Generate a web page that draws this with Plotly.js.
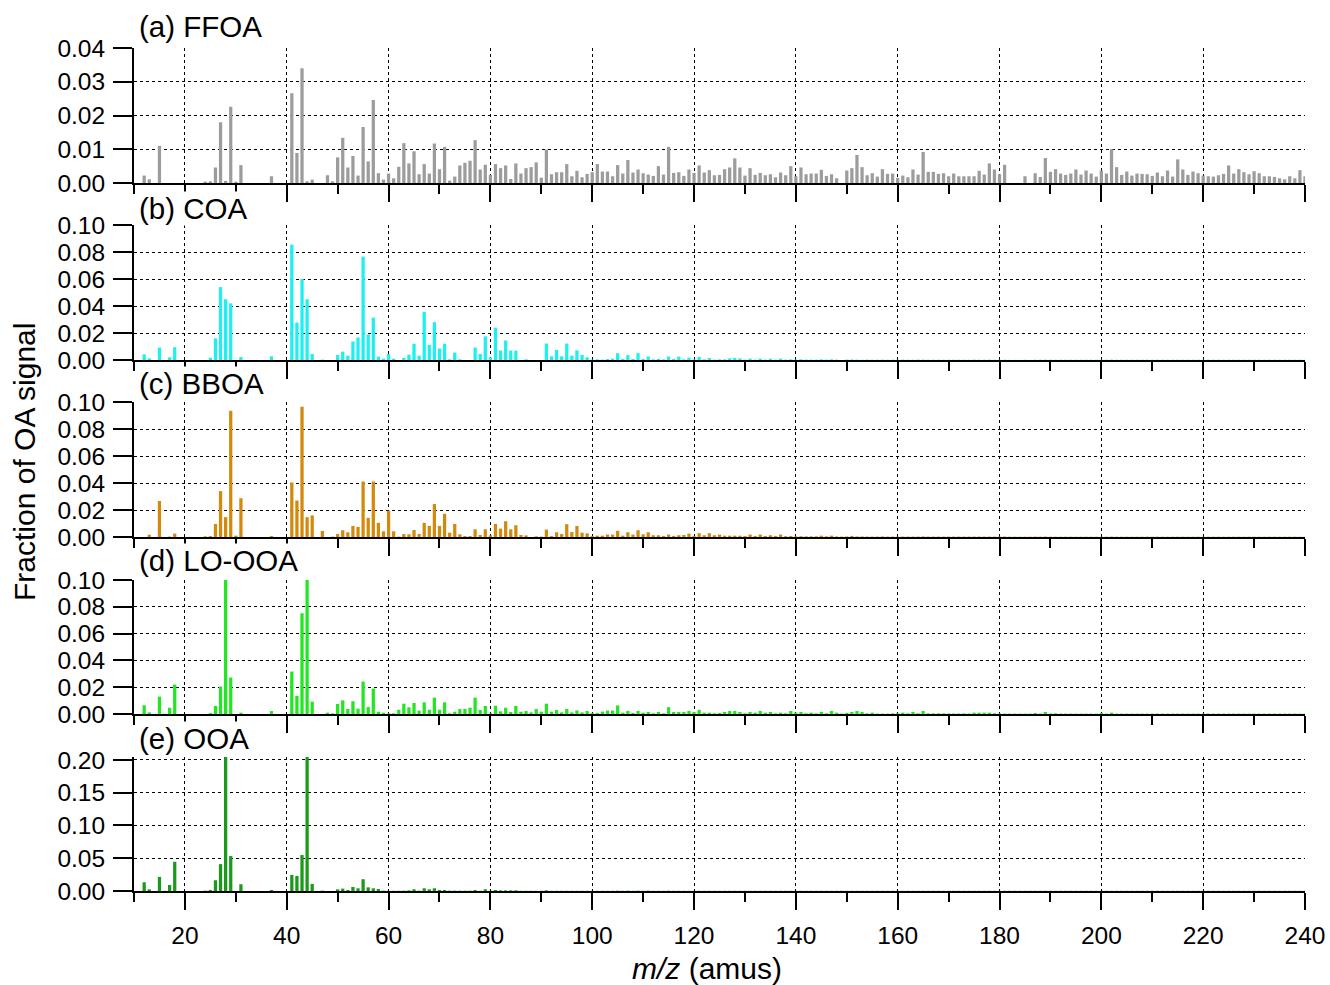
<!DOCTYPE html>
<html>
<head>
<meta charset="utf-8">
<script src="https://cdn.plot.ly/plotly-3.0.1.min.js"></script>
<style>html,body{margin:0;padding:0;background:#fff;}#chart{width:1330px;height:985px;}</style>
</head>
<body>
<div id="chart"></div>
<script>
// m/z values (amus)
const MZ = [12,13,14,15,16,17,18,19,
20,21,22,23,24,25,26,27,28,29,
30,31,32,33,34,35,36,37,38,39,
40,41,42,43,44,45,46,47,48,49,
50,51,52,53,54,55,56,57,58,59,
60,61,62,63,64,65,66,67,68,69,
70,71,72,73,74,75,76,77,78,79,
80,81,82,83,84,85,86,87,88,89,
90,91,92,93,94,95,96,97,98,99,
100,101,102,103,104,105,106,107,108,109,
110,111,112,113,114,115,116,117,118,119,
120,121,122,123,124,125,126,127,128,129,
130,131,132,133,134,135,136,137,138,139,
140,141,142,143,144,145,146,147,148,149,
150,151,152,153,154,155,156,157,158,159,
160,161,162,163,164,165,166,167,168,169,
170,171,172,173,174,175,176,177,178,179,
180,181,182,183,184,185,186,187,188,189,
190,191,192,193,194,195,196,197,198,199,
200,201,202,203,204,205,206,207,208,209,
210,211,212,213,214,215,216,217,218,219,
220,221,222,223,224,225,226,227,228,229,
230,231,232,233,234,235,236,237,238,239,
240];

const FFOA = [0.0022,0.0011,0,0.011,0,0,0,0,
0,0,0,0,0.0004,0.0005,0.0046,0.018,0.0006,0.0226,
0.0004,0.0053,0,0,0,0,0,0.002,0,0,
0,0.0266,0.0089,0.034,0.0005,0.001,0,0,0.0023,0.0005,
0.0076,0.0134,0.0046,0.008,0.0022,0.0166,0.0064,0.0246,0.0029,0.001,
0.0028,0.0014,0.0048,0.0118,0.0058,0.0094,0.0026,0.0056,0.0028,0.0117,
0.0041,0.0107,0.0007,0.0019,0.0052,0.006,0.0066,0.0127,0.004,0.0054,
0.0024,0.0056,0.0044,0.0052,0.0012,0.0058,0.0028,0.0044,0.0047,0.0061,
0.0016,0.0099,0.0026,0.0032,0.0032,0.0056,0.002,0.0036,0.0017,0.0027,
0.0032,0.0056,0.0034,0.0034,0.002,0.0053,0.0028,0.0068,0.0031,0.004,
0.0029,0.0025,0.0021,0.005,0.0025,0.0107,0.003,0.0032,0.0021,0.004,
0.003,0.0052,0.0031,0.0038,0.0023,0.0024,0.0041,0.0046,0.0073,0.0046,
0.0022,0.0044,0.0024,0.003,0.0023,0.0026,0.0017,0.0031,0.0023,0.005,
0.002,0.0046,0.0026,0.0028,0.0028,0.0039,0.0021,0.0026,0.0014,0,
0.0037,0.0044,0.0083,0.0047,0.0023,0.0029,0.0019,0.0041,0.0027,0.0028,
0.0015,0.0022,0.0017,0.004,0.0025,0.0092,0.0033,0.0033,0.0027,0.0029,
0.002,0.0028,0.002,0.002,0.002,0.002,0.0036,0.0025,0.0058,0.004,
0.0026,0.0054,0,0,0,0.002,0,0.0029,0.0018,0.0074,
0.0033,0.0041,0.0028,0.0024,0.0028,0.004,0.0025,0.0037,0.0028,0.0019,
0.0037,0.0028,0.01,0.0047,0.0024,0.0034,0.0022,0.0028,0.0027,0.0026,
0.0021,0.0031,0.002,0.0037,0.0019,0.007,0.004,0.0024,0.0034,0.0029,
0.0022,0.002,0.0019,0.0023,0.0027,0.0052,0.0028,0.0041,0.0032,0.0026,
0.0035,0.0029,0.002,0.002,0.0018,0.0014,0.0011,0.002,0.0014,0.0038,
0.002];

const COA = [0.0042,0.0012,0,0.0092,0,0.002,0.0095,0,
0,0,0,0,0,0.0017,0.016,0.054,0.045,0.042,
0,0.0022,0,0,0,0,0,0.0027,0,0,
0,0.0855,0.0277,0.06,0.045,0.0045,0,0.0003,0,0,
0.0037,0.0062,0.0032,0.0137,0.0167,0.0766,0.019,0.0314,0.0025,0.001,
0.0045,0.001,0,0.0015,0.004,0.012,0.0032,0.0357,0.0112,0.028,
0.0085,0.012,0.0005,0.0055,0.0005,0,0,0.0092,0.0045,0.0175,
0.002,0.024,0.007,0.0145,0.007,0.007,0,0.0005,0,0,
0,0.0122,0.0027,0.0075,0.0027,0.0122,0.0032,0.0072,0.0037,0.002,
0.0003,0.0005,0.0003,0.0007,0.001,0.005,0.0008,0.0036,0.0008,0.005,
0.0008,0.0026,0.0005,0.0008,0.0005,0.0026,0.0008,0.0026,0.0005,0.0018,
0.0005,0.0023,0.0005,0.0015,0.0003,0.0005,0.0005,0.0012,0.0015,0.0012,
0.0003,0.001,0.0003,0.001,0.0003,0.001,0.0003,0.001,0.0003,0.0005,
0.0003,0.0005,0.0003,0.0003,0.0003,0.0005,0.0003,0.0005,0.0003,0,
0.0003,0.0004,0.0003,0.0002,0.0003,0.0002,0.0002,0.0003,0.0002,0.0002,
0.0002,0.0003,0.0002,0.0002,0.0003,0.0003,0.0002,0.0002,0.0002,0.0002,
0.0002,0.0002,0.0002,0.0002,0.0002,0.0003,0.0002,0.0002,0.0003,0.0002,
0.0002,0.0002,0.0001,0.0001,0.0001,0.0002,0.0001,0.0002,0.0002,0.0003,
0.0002,0.0002,0.0002,0.0002,0.0002,0.0002,0.0002,0.0002,0.0002,0.0002,
0.0002,0.0002,0.0003,0.0002,0.0002,0.0002,0.0002,0.0002,0.0002,0.0002,
0.0002,0.0002,0.0002,0.0002,0.0002,0.0002,0.0002,0.0002,0.0002,0.0002,
0.0002,0.0002,0.0002,0.0002,0.0002,0.0002,0.0002,0.0002,0.0002,0.0002,
0.0002,0.0002,0.0002,0.0002,0.0002,0.0002,0.0002,0.0002,0.0002,0.0002,
0.0002];

const BBOA = [0,0.0017,0,0.0267,0,0.0003,0.0025,0,
0,0,0,0,0.0005,0.0007,0.0097,0.034,0.0147,0.0935,
0.001,0.0287,0,0,0,0,0,0.0007,0,0,
0,0.0404,0.027,0.0965,0.0147,0.016,0,0.0045,0,0.0003,
0.0022,0.005,0.0035,0.0082,0.0075,0.0411,0.0142,0.0411,0.0105,0.0042,
0.0195,0.0042,0.0003,0.0022,0.002,0.0052,0.0022,0.0105,0.0082,0.0244,
0.0082,0.0172,0.0032,0.0097,0.002,0.0007,0.0007,0.0057,0.0015,0.0057,
0.0012,0.0097,0.0062,0.0117,0.0057,0.0087,0.0015,0.0012,0,0.0005,
0.0003,0.0055,0.0007,0.0035,0.0022,0.0095,0.0037,0.0082,0.0032,0.0027,
0.0007,0.001,0.001,0.0018,0.0018,0.0046,0.001,0.0035,0.0018,0.005,
0.002,0.0035,0.0013,0.0013,0.0008,0.0018,0.0008,0.0013,0.0015,0.0025,
0.0008,0.0028,0.0013,0.0028,0.0013,0.0018,0.001,0.001,0.001,0.001,
0.0008,0.0018,0.0008,0.0018,0.0008,0.0013,0.0008,0.0018,0.0006,0.0008,
0.0005,0.0006,0.0005,0.0005,0.0005,0.001,0.0005,0.001,0.0004,0.0003,
0.0004,0.0008,0.0004,0.0004,0.0003,0.0003,0.0003,0.0004,0.0003,0.0003,
0.0003,0.0003,0.0003,0.0003,0.0003,0.0004,0.0003,0.0003,0.0003,0.0003,
0.0003,0.0003,0.0003,0.0003,0.0003,0.0003,0.0003,0.0003,0.0003,0.0003,
0.0003,0.0003,0.0002,0.0002,0.0002,0.0002,0.0002,0.0003,0.0002,0.0003,
0.0002,0.0002,0.0002,0.0002,0.0002,0.0002,0.0002,0.0002,0.0002,0.0002,
0.0002,0.0002,0.0003,0.0002,0.0002,0.0002,0.0002,0.0002,0.0002,0.0002,
0.0002,0.0002,0.0002,0.0002,0.0002,0.0002,0.0002,0.0002,0.0002,0.0002,
0.0002,0.0002,0.0002,0.0002,0.0002,0.0002,0.0002,0.0002,0.0002,0.0002,
0.0002,0.0002,0.0002,0.0002,0.0002,0.0002,0.0002,0.0002,0.0002,0.0002,
0.0002];

const LOOOA = [0.0065,0.0012,0,0.013,0.0002,0.0047,0.022,0,
0,0,0,0,0,0.0007,0.006,0.0205,0.105,0.0272,
0,0.001,0,0,0,0,0,0.0022,0,0,
0,0.0317,0.0135,0.0752,0.105,0.0092,0,0,0.001,0.0005,
0.0075,0.0102,0.0037,0.0095,0.004,0.0242,0.0052,0.019,0.0017,0.001,
0.0005,0.0005,0.0032,0.0077,0.005,0.0082,0.0025,0.0087,0.0032,0.0122,
0.0032,0.0087,0.0005,0.0017,0.0037,0.0037,0.0047,0.0122,0.003,0.006,
0.0005,0.0062,0.002,0.0047,0.0015,0.006,0.0017,0.0022,0.0012,0.0037,
0.0017,0.0077,0.0017,0.003,0.0012,0.0037,0.0012,0.0027,0.0012,0.0022,
0.0007,0.0007,0.0018,0.0026,0.0026,0.0064,0.001,0.0023,0.0008,0.0023,
0.001,0.0015,0.0005,0.0015,0.0005,0.0051,0.0015,0.0015,0.0015,0.0023,
0.0015,0.0031,0.001,0.001,0.0005,0.0008,0.0015,0.0023,0.0023,0.0015,
0.0005,0.0015,0.001,0.0023,0.001,0.0015,0.0005,0.001,0.0005,0.0023,
0.001,0.0015,0.0005,0.001,0.0005,0.0015,0.0005,0.0023,0.001,0.0003,
0.0008,0.0015,0.0023,0.0015,0.0005,0.001,0.0003,0.0003,0.0003,0.0005,
0.0005,0.001,0.0005,0.0015,0.0005,0.0023,0.0005,0.0005,0.0005,0.0005,
0.0004,0.0004,0.0004,0.0005,0.0004,0.001,0.001,0.001,0.001,0.0005,
0.0005,0.0003,0.0003,0.0003,0.0003,0.0003,0.0003,0.0008,0.0003,0.0015,
0.0003,0.0005,0.0003,0.0003,0.0003,0.0003,0.0003,0.0003,0.0003,0.0003,
0.0008,0.0003,0.001,0.0003,0.0003,0.0003,0.0003,0.0003,0.0003,0.0003,
0.0003,0.0003,0.0003,0.0003,0.0003,0.0003,0.0003,0.0003,0.0003,0.0003,
0.0003,0.0003,0.0003,0.0003,0.0003,0.0003,0.0003,0.0003,0.0003,0.0003,
0.0003,0.0003,0.0003,0.0003,0.0003,0.0003,0.0003,0.0003,0.0003,0.0003,
0.0003];

const OOA = [0.0133,0.0026,0,0.0215,0.0003,0.0092,0.0446,0,
0,0,0,0,0.0005,0.0015,0.0164,0.041,0.21,0.0533,
0,0.0103,0,0,0,0,0,0.0015,0,0,
0,0.0246,0.023,0.0549,0.21,0.0108,0,0.0005,0,0,
0.0026,0.0036,0.0015,0.0062,0.0041,0.018,0.0056,0.0041,0.0031,0.0005,
0.0003,0.0003,0.0003,0.0005,0.001,0.0026,0.0005,0.0041,0.0026,0.0041,
0.0015,0.0015,0.0005,0.0005,0.0005,0.0005,0.0005,0.0015,0.0003,0.0026,
0.0003,0.0015,0.001,0.001,0.001,0.001,0.0003,0.0003,0.0003,0.0003,
0.0003,0.001,0.0003,0.0003,0.0003,0.0003,0.0003,0.0003,0.0003,0.0003,
0.0003,0.0003,0.0003,0.0003,0.0003,0.0005,0.0003,0.0005,0.0003,0.0005,
0.0003,0.0005,0.0003,0.0003,0.0003,0.0005,0.0003,0.0003,0.0003,0.0003,
0.0003,0.0003,0.0003,0.0003,0.0003,0.0003,0.0003,0.0003,0.0003,0.0003,
0.0003,0.0003,0.0003,0.0003,0.0003,0.0003,0.0003,0.0003,0.0003,0.0003,
0.0003,0.0003,0.0003,0.0003,0.0003,0.0003,0.0003,0.0003,0.0003,0.0003,
0.0003,0.0003,0.0003,0.0003,0.0003,0.0003,0.0003,0.0003,0.0003,0.0003,
0.0003,0.0003,0.0003,0.0003,0.0003,0.0003,0.0003,0.0003,0.0003,0.0003,
0.0003,0.0003,0.0003,0.0003,0.0003,0.0003,0.0003,0.0003,0.0003,0.0003,
0.0003,0.0003,0.0003,0.0003,0.0003,0.0003,0.0003,0.0003,0.0003,0.0003,
0.0003,0.0003,0.0003,0.0003,0.0003,0.0003,0.0003,0.0003,0.0003,0.0003,
0.0003,0.0003,0.0003,0.0003,0.0003,0.0003,0.0003,0.0003,0.0003,0.0003,
0.0003,0.0003,0.0003,0.0003,0.0003,0.0003,0.0003,0.0003,0.0003,0.0003,
0.0003,0.0003,0.0003,0.0003,0.0003,0.0003,0.0003,0.0003,0.0003,0.0003,
0.0003,0.0003,0.0003,0.0003,0.0003,0.0003,0.0003,0.0003,0.0003,0.0003,
0.0003];

const PANEL_LABELS = ['(a) FFOA', '(b) COA', '(c) BBOA', '(d) LO-OOA', '(e) OOA'];
const SERIES = [FFOA, COA, BBOA, LOOOA, OOA];
const COLORS = ['#9c9c9c', '#1cf0f0', '#d3890c', '#22e622', '#1a9a1a'];
const Y_RANGES = [[0, 0.04], [0, 0.1], [0, 0.1], [0, 0.1], [0, 0.2045]];
const Y_DTICKS = [0.01, 0.02, 0.02, 0.02, 0.05];
const X_TICK_LABELS = ['20','40','60','80','100','120','140','160','180','200','220','240'];
const Y_TITLE = 'Fraction of OA signal';
const X_TITLE = '<i>m/z</i> (amus)';

// layout geometry (pixels)
const W = 1330, H = 985, L = 134, R = 1305, T = 48, B = 891;
const PH = B - T;
const panelPx = [[48,183],[225,360],[402,537],[580,714],[757,891]];
const labelY = [26, 208, 383, 561, 738];
const FONT = 'Arial, "Liberation Sans", Helvetica, sans-serif';

const traces = [];
const layout = {
  width: W, height: H,
  margin: {l: L, r: W - R, t: T, b: H - B, pad: 0},
  paper_bgcolor: '#fff', plot_bgcolor: '#fff',
  showlegend: false,
  font: {family: FONT, color: '#000', size: 24},
  annotations: []
};

SERIES.forEach((vals, i) => {
  const n = i + 1;
  const xa = n === 1 ? 'x' : 'x' + n;
  const ya = n === 1 ? 'y' : 'y' + n;
  traces.push({
    type: 'bar', x: MZ, y: vals, xaxis: xa, yaxis: ya,
    width: 0.64, marker: {color: COLORS[i], line: {width: 0}},
    hoverinfo: 'x+y'
  });
  const d0 = (B - panelPx[i][1]) / PH, d1 = (B - panelPx[i][0]) / PH;
  layout[(n === 1 ? 'xaxis' : 'xaxis' + n)] = {
    domain: [0, 1], anchor: ya, range: [10, 240],
    tickmode: 'array', tickvals: X_TICK_LABELS.map(Number), ticktext: X_TICK_LABELS,
    ticks: 'outside', ticklen: 17, tickwidth: 2, tickcolor: '#000',
    minor: {dtick: 10, tick0: 0, ticks: 'outside', ticklen: 9, tickwidth: 2, tickcolor: '#000', showgrid: false},
    showticklabels: n === 5, tickfont: {size: 24.5, family: FONT},
    ticklabelstandoff: 5,
    showline: true, linewidth: 2, linecolor: '#000',
    showgrid: true, gridcolor: '#000', gridwidth: 1, griddash: 'dot',
    zeroline: false, fixedrange: true
  };
  layout[(n === 1 ? 'yaxis' : 'yaxis' + n)] = {
    domain: [d0, d1], anchor: xa, range: Y_RANGES[i],
    dtick: Y_DTICKS[i], tick0: 0, tickformat: '.2f',
    ticks: 'outside', ticklen: 19, tickwidth: 2, tickcolor: '#000',
    tickfont: {size: 24.5, family: FONT}, ticklabelstandoff: 3,
    showline: true, linewidth: 2, linecolor: '#000',
    showgrid: true, gridcolor: '#000', gridwidth: 1, griddash: 'dot',
    zeroline: false, fixedrange: true
  };
  layout.annotations.push({
    text: PANEL_LABELS[i], xref: 'paper', yref: 'paper',
    x: 0.003, xanchor: 'left', y: (B - labelY[i]) / PH, yanchor: 'middle',
    showarrow: false, font: {size: 29.5, family: FONT, color: '#000'},
    bgcolor: '#fff', borderpad: 0
  });
});

layout.annotations.push({
  text: Y_TITLE, xref: 'paper', yref: 'paper',
  x: (24 - L) / (R - L), xanchor: 'center', y: (B - 462) / PH, yanchor: 'middle',
  textangle: -90, showarrow: false, font: {size: 30, family: FONT, color: '#000'}
});
layout.annotations.push({
  text: X_TITLE, xref: 'paper', yref: 'paper',
  x: (707 - L) / (R - L), xanchor: 'center', y: (B - 968) / PH, yanchor: 'middle',
  showarrow: false, font: {size: 30, family: FONT, color: '#000'}
});

Plotly.newPlot('chart', traces, layout, {staticPlot: true, displayModeBar: false});
</script>
</body>
</html>
